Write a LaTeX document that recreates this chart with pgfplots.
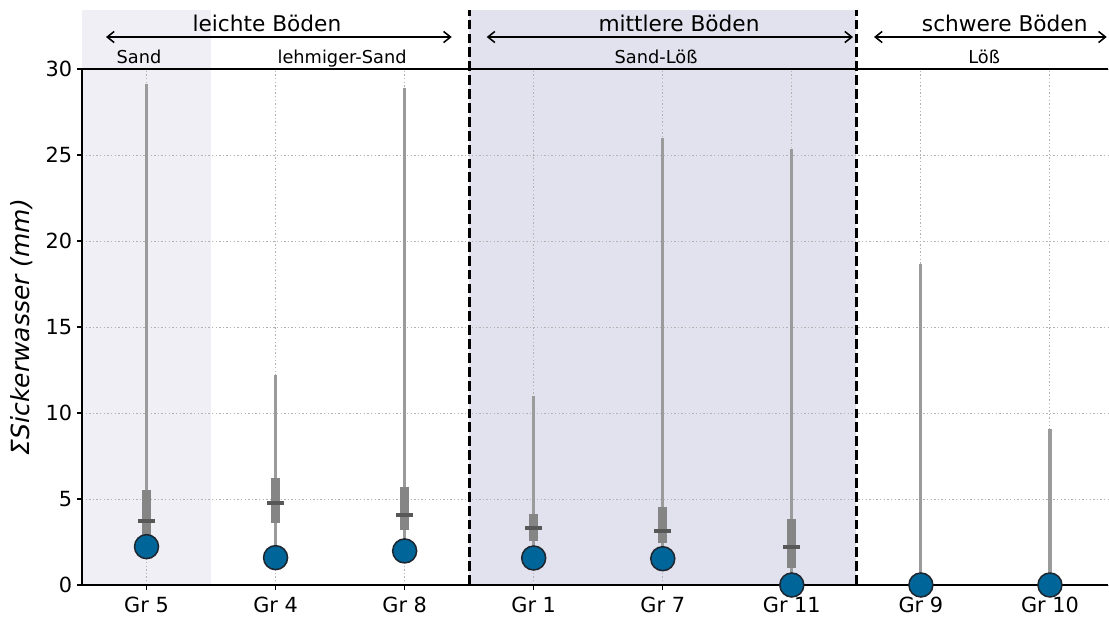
\documentclass[border=0pt]{standalone}
\usepackage{fontspec}
\setmainfont{DejaVu Sans}
\usepackage{pgfplots}
\usepackage{pgfplotstable}
\pgfplotsset{compat=1.18}
\usetikzlibrary{arrows.meta}
\definecolor{sandcol}{RGB}{240,239,246}
\definecolor{loesscol}{RGB}{226,226,238}
\definecolor{wgray}{RGB}{155,155,155}
\definecolor{bgray}{RGB}{133,133,133}
\definecolor{mgray}{RGB}{88,88,88}
\definecolor{mblue}{RGB}{0,102,153}
\definecolor{medge}{RGB}{30,38,48}
\definecolor{gridcol}{RGB}{178,178,178}

\pgfplotstableread{
x wlo whi qlo qhi med mean
0 2.2 29.13 2.6 5.52 3.74 2.23
1 1.6 12.2 3.6 6.22 4.79 1.59
2 2.0 28.9 3.2 5.72 4.07 1.98
3 1.6 11.0 2.56 4.13 3.30 1.57
4 1.5 26.0 2.42 4.52 3.14 1.53
5 0.0 25.35 1.0 3.82 2.23 0.0
6 0.0 18.66 0.0 0.0 0.0 0.0
7 0.0 9.07 0.0 0.0 0.0 0.0
}\datatable

\begin{document}
\begin{tikzpicture}
\begin{axis}[
  at={(59.04pt,25.92pt)}, anchor=south west,
  scale only axis, width=738.72pt, height=371.52pt,
  set layers, clip=false,
  xmin=-0.5, xmax=7.45, ymin=0, ymax=30,
  xtick={0,...,7},
  xticklabels={Gr 5, Gr 4, Gr 8, Gr 1, Gr 7, Gr 11, Gr 9, Gr 10},
  ytick={0,5,...,30},
  axis x line*=bottom, axis y line*=left,
  axis line style={black, line width=1pt},
  tick align=outside, major tick length=3.6pt,
  tick style={black, line width=0.9pt},
  grid=major,
  grid style={gridcol, line width=0.7pt, dash pattern=on 1pt off 1.6pt},
  /pgf/number format/assume math mode=true,
  tick label style={font=\fontsize{15}{17}\selectfont},
  xticklabel style={yshift=-1.5pt},
  ylabel={\textit{ΣSickerwasser (mm)}},
  ylabel style={font=\fontsize{18}{20}\selectfont, at={(axis description cs:-0.0585,0.5)}, anchor=center},
]
\begin{pgfonlayer}{axis background}
\fill[sandcol] (axis cs:-0.5,0) rectangle (axis cs:0.5,33.43);
\fill[loesscol] (axis cs:2.5,0) rectangle (axis cs:5.5,33.43);
\end{pgfonlayer}

% whiskers
\addplot[forget plot, draw=none, mark=none,
  error bars/.cd, y dir=minus, y explicit, error mark=none,
  error bar style={draw=wgray, line width=2.3pt}]
  table[x=x, y=whi, y error minus expr=\thisrow{whi}-\thisrow{wlo}] {\datatable};
% boxes
\addplot[forget plot, draw=none, mark=none,
  error bars/.cd, y dir=minus, y explicit, error mark=none,
  error bar style={draw=bgray, line width=6.5pt}]
  table[x=x, y=qhi, y error minus expr=\thisrow{qhi}-\thisrow{qlo}] {\datatable};
% medians
\addplot[forget plot, only marks, mark=-, mark size=6.1pt,
  mark options={draw=mgray, line width=3pt}]
  table[x=x, y=med] {\datatable};
% means
\addplot[forget plot, only marks, mark=*, mark size=8.64pt,
  mark options={fill=mblue, draw=medge, line width=1.1pt}]
  table[x=x, y=mean] {\datatable};

\draw[black, line width=1pt] (axis cs:-0.5,30) -- (axis cs:7.45,30);
\draw[black, line width=2pt, dash pattern=on 7pt off 3pt] (axis cs:2.5,0) -- (axis cs:2.5,33.43);
\draw[black, line width=2pt, dash pattern=on 7pt off 3pt] (axis cs:5.5,0) -- (axis cs:5.5,33.43);

\draw[line width=1.1pt, {Straight Barb[length=5pt,width=8pt]}-{Straight Barb[length=5pt,width=8pt]}] (axis cs:-0.314,31.86) -- (axis cs:2.365,31.86);
\draw[line width=1.1pt, {Straight Barb[length=5pt,width=8pt]}-{Straight Barb[length=5pt,width=8pt]}] (axis cs:2.636,31.86) -- (axis cs:5.474,31.86);
\draw[line width=1.1pt, {Straight Barb[length=5pt,width=8pt]}-{Straight Barb[length=5pt,width=8pt]}] (axis cs:5.637,31.86) -- (axis cs:7.44,31.86);

\node[anchor=base, font=\fontsize{15.6}{18}\selectfont, inner sep=0pt] at (axis cs:0.933,32.17) {leichte Böden};
\node[anchor=base, font=\fontsize{15.6}{18}\selectfont, inner sep=0pt] at (axis cs:4.126,32.17) {mittlere Böden};
\node[anchor=base, font=\fontsize{15.6}{18}\selectfont, inner sep=0pt] at (axis cs:6.65,32.17) {schwere Böden};

\node[anchor=base, font=\fontsize{12.8}{15}\selectfont, inner sep=0pt] at (axis cs:-0.058,30.33) {Sand};
\node[anchor=base, font=\fontsize{12.8}{15}\selectfont, inner sep=0pt] at (axis cs:1.515,30.33) {lehmiger-Sand};
\node[anchor=base, font=\fontsize{12.8}{15}\selectfont, inner sep=0pt] at (axis cs:3.948,30.33) {Sand-Löß};
\node[anchor=base, font=\fontsize{12.8}{15}\selectfont, inner sep=0pt] at (axis cs:6.49,30.33) {Löß};
\end{axis}
\pgfresetboundingbox
\path[use as bounding box] (0,0) rectangle (798.48pt,447.12pt);
\end{tikzpicture}
\end{document}
